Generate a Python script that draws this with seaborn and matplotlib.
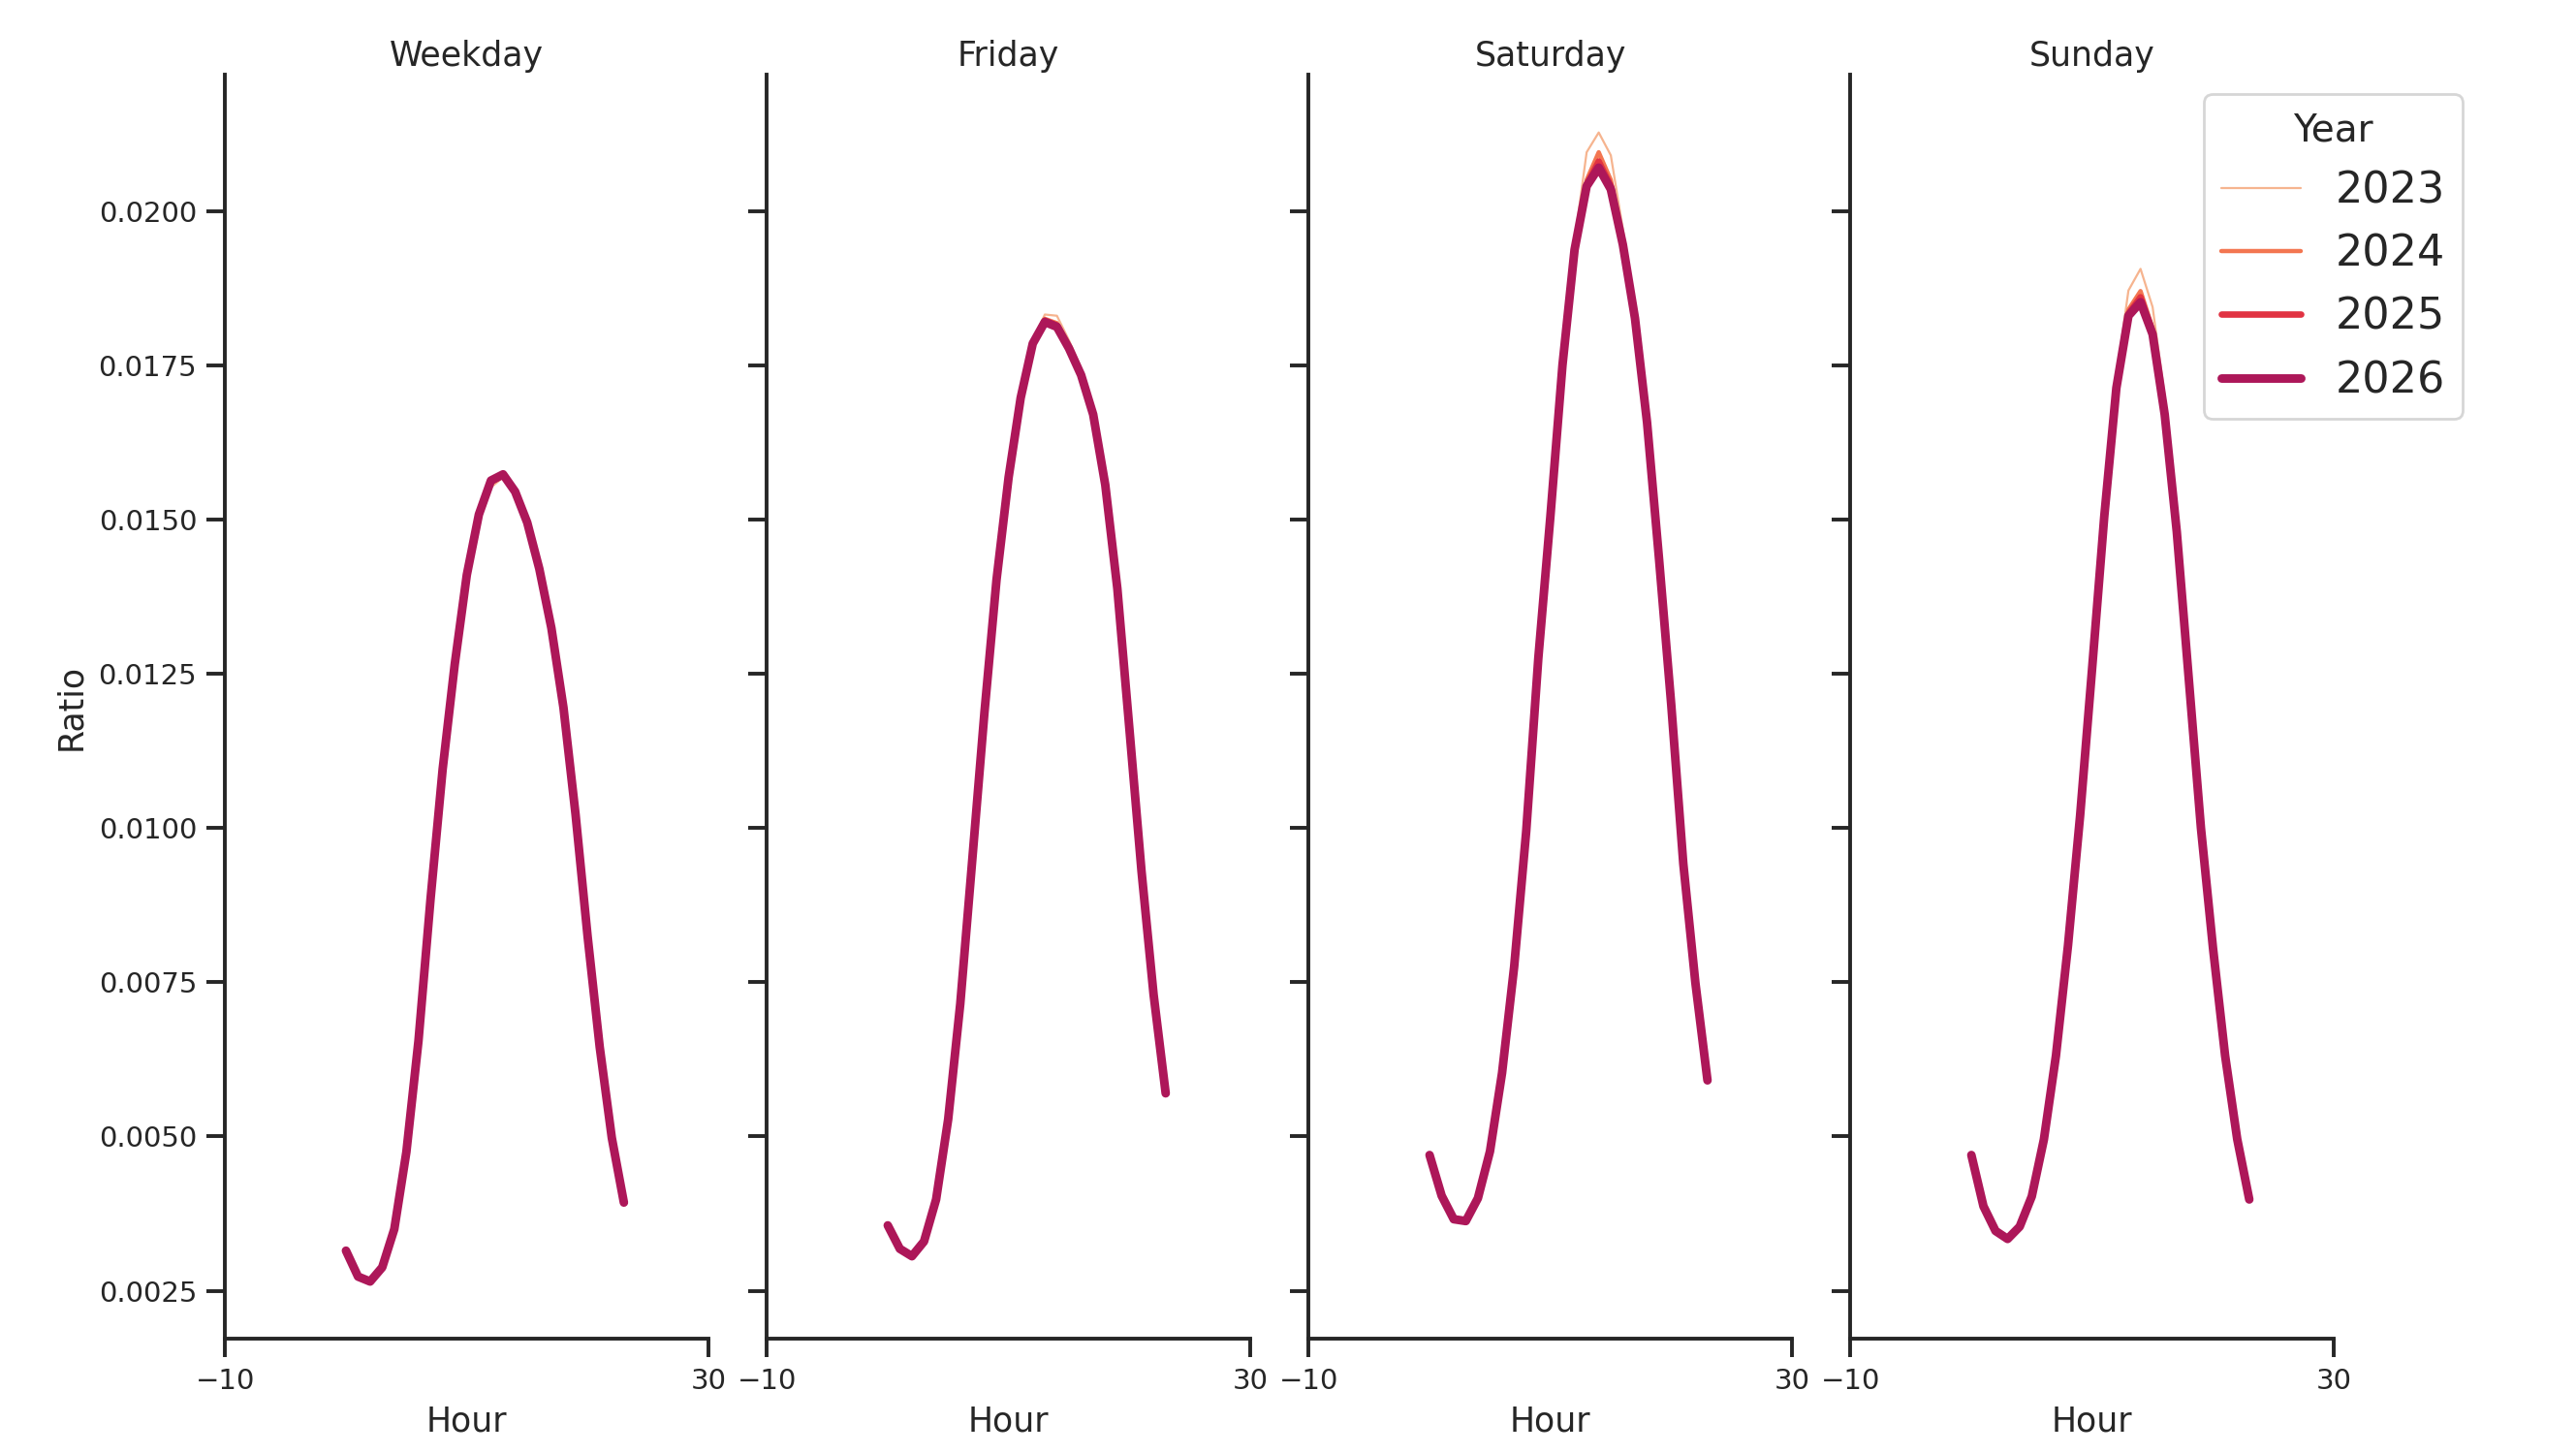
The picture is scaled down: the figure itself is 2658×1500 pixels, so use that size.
import pandas as pd
import matplotlib.pyplot as plt
import seaborn as sns

# hourly share of daily volume, per day type and year
hours = list(range(24))
days = ["Weekday", "Friday", "Saturday", "Sunday"]
years = ["2023", "2024", "2025", "2026"]
colors = ["#f6b48f", "#f37651", "#e13342", "#ad1759"]
widths = [0.8, 1.6, 2.4, 3.2]

weekday_2023 = [0.00315, 0.00275, 0.00266, 0.00289, 0.00350, 0.00474, 0.00653, 0.00882, 0.01092, 0.01262, 0.01405, 0.01498, 0.01552, 0.01568, 0.01543, 0.01494, 0.01420, 0.01324, 0.01195, 0.01022, 0.00824, 0.00645, 0.00498, 0.00392]
weekday_2024 = [0.00315, 0.00274, 0.00265, 0.00288, 0.00350, 0.00475, 0.00654, 0.00884, 0.01094, 0.01264, 0.01408, 0.01503, 0.01558, 0.01571, 0.01544, 0.01495, 0.01420, 0.01324, 0.01195, 0.01022, 0.00824, 0.00645, 0.00498, 0.00393]
weekday_2025 = [0.00315, 0.00273, 0.00265, 0.00288, 0.00350, 0.00475, 0.00655, 0.00885, 0.01095, 0.01265, 0.01410, 0.01506, 0.01561, 0.01572, 0.01545, 0.01495, 0.01420, 0.01324, 0.01195, 0.01022, 0.00824, 0.00645, 0.00498, 0.00393]
weekday_2026 = [0.00315, 0.00273, 0.00265, 0.00288, 0.00350, 0.00475, 0.00655, 0.00885, 0.01095, 0.01265, 0.01410, 0.01508, 0.01563, 0.01573, 0.01545, 0.01495, 0.01420, 0.01324, 0.01195, 0.01022, 0.00824, 0.00645, 0.00498, 0.00393]

friday_2023 = [0.00356, 0.00318, 0.00306, 0.00330, 0.00398, 0.00528, 0.00715, 0.00950, 0.01187, 0.01402, 0.01568, 0.01698, 0.01790, 0.01832, 0.01830, 0.01790, 0.01745, 0.01676, 0.01558, 0.01388, 0.01160, 0.00930, 0.00730, 0.00570]
friday_2024 = [0.00356, 0.00318, 0.00306, 0.00330, 0.00398, 0.00528, 0.00715, 0.00950, 0.01187, 0.01402, 0.01568, 0.01697, 0.01786, 0.01825, 0.01818, 0.01780, 0.01736, 0.01671, 0.01556, 0.01388, 0.01160, 0.00930, 0.00730, 0.00570]
friday_2025 = [0.00356, 0.00318, 0.00306, 0.00330, 0.00398, 0.00528, 0.00715, 0.00950, 0.01187, 0.01402, 0.01568, 0.01697, 0.01785, 0.01822, 0.01814, 0.01778, 0.01734, 0.01670, 0.01556, 0.01388, 0.01160, 0.00930, 0.00730, 0.00570]
friday_2026 = [0.00356, 0.00318, 0.00306, 0.00330, 0.00398, 0.00528, 0.00715, 0.00950, 0.01187, 0.01402, 0.01568, 0.01697, 0.01785, 0.01820, 0.01812, 0.01777, 0.01734, 0.01670, 0.01556, 0.01388, 0.01160, 0.00930, 0.00730, 0.00570]

saturday_2023 = [0.00470, 0.00404, 0.00366, 0.00363, 0.00400, 0.00476, 0.00603, 0.00775, 0.00995, 0.01275, 0.01505, 0.01755, 0.01950, 0.02095, 0.02127, 0.02090, 0.01970, 0.01840, 0.01660, 0.01436, 0.01200, 0.00942, 0.00749, 0.00588]
saturday_2024 = [0.00470, 0.00404, 0.00366, 0.00363, 0.00400, 0.00476, 0.00603, 0.00775, 0.00995, 0.01275, 0.01505, 0.01752, 0.01942, 0.02050, 0.02095, 0.02050, 0.01950, 0.01828, 0.01657, 0.01434, 0.01200, 0.00942, 0.00749, 0.00590]
saturday_2025 = [0.00470, 0.00404, 0.00366, 0.00363, 0.00400, 0.00476, 0.00603, 0.00775, 0.00995, 0.01275, 0.01505, 0.01750, 0.01939, 0.02042, 0.02080, 0.02040, 0.01947, 0.01826, 0.01657, 0.01434, 0.01200, 0.00942, 0.00749, 0.00591]
saturday_2026 = [0.00470, 0.00404, 0.00366, 0.00363, 0.00400, 0.00476, 0.00603, 0.00775, 0.00995, 0.01275, 0.01505, 0.01750, 0.01937, 0.02040, 0.02070, 0.02035, 0.01945, 0.01826, 0.01657, 0.01434, 0.01200, 0.00942, 0.00749, 0.00591]

sunday_2023 = [0.00470, 0.00387, 0.00347, 0.00334, 0.00354, 0.00403, 0.00495, 0.00631, 0.00810, 0.01020, 0.01260, 0.01508, 0.01730, 0.01871, 0.01906, 0.01844, 0.01700, 0.01490, 0.01243, 0.01000, 0.00805, 0.00631, 0.00496, 0.00398]
sunday_2024 = [0.00470, 0.00387, 0.00347, 0.00334, 0.00354, 0.00403, 0.00495, 0.00631, 0.00810, 0.01020, 0.01260, 0.01506, 0.01718, 0.01840, 0.01870, 0.01810, 0.01675, 0.01482, 0.01240, 0.01000, 0.00805, 0.00631, 0.00496, 0.00398]
sunday_2025 = [0.00470, 0.00387, 0.00347, 0.00334, 0.00354, 0.00403, 0.00495, 0.00631, 0.00810, 0.01020, 0.01260, 0.01505, 0.01714, 0.01833, 0.01860, 0.01803, 0.01671, 0.01480, 0.01240, 0.01000, 0.00805, 0.00631, 0.00496, 0.00398]
sunday_2026 = [0.00470, 0.00387, 0.00347, 0.00334, 0.00354, 0.00403, 0.00495, 0.00631, 0.00810, 0.01020, 0.01260, 0.01505, 0.01713, 0.01830, 0.01852, 0.01800, 0.01670, 0.01480, 0.01240, 0.01000, 0.00805, 0.00631, 0.00496, 0.00398]

series = {
    "Weekday": [weekday_2023, weekday_2024, weekday_2025, weekday_2026],
    "Friday": [friday_2023, friday_2024, friday_2025, friday_2026],
    "Saturday": [saturday_2023, saturday_2024, saturday_2025, saturday_2026],
    "Sunday": [sunday_2023, sunday_2024, sunday_2025, sunday_2026],
}

rows = []
for day in days:
    for year, vals in zip(years, series[day]):
        for h, v in zip(hours, vals):
            rows.append({"Day": day, "Year": year, "Hour": h, "Ratio": v})
df = pd.DataFrame(rows)

sns.set_theme(style="ticks", context="notebook")
plt.rcParams.update({
    "xtick.labelsize": 10.5,
    "ytick.labelsize": 10.5,
    "axes.titlesize": 12,
    "axes.titlepad": 3.5,
    "axes.labelsize": 12.5,
    "axes.linewidth": 1.4,
    "xtick.major.size": 7,
    "ytick.major.size": 7,
    "xtick.major.width": 1.4,
    "ytick.major.width": 1.4,
})

g = sns.relplot(
    data=df, x="Hour", y="Ratio", hue="Year", size="Year",
    col="Day", col_order=days, hue_order=years, size_order=years,
    palette=dict(zip(years, colors)), sizes=dict(zip(years, widths)),
    kind="line", height=7.0, aspect=0.5,
)
g.set_titles("{col_name}")
g.set(xlim=(-10, 30), xticks=[-10, 30])
g.set_axis_labels("Hour", "Ratio")

g.figure.set_size_inches(13.29, 7.5)
g.figure.subplots_adjust(left=0.0874, right=0.906, bottom=0.0791, top=0.9484, wspace=0.121)

sns.move_legend(g, "upper right", bbox_to_anchor=(0.956, 0.935), frameon=True,
                borderaxespad=0, handlelength=1.85, fontsize=16, title_fontsize=14)

g.figure.savefig("out.png", dpi=200)
